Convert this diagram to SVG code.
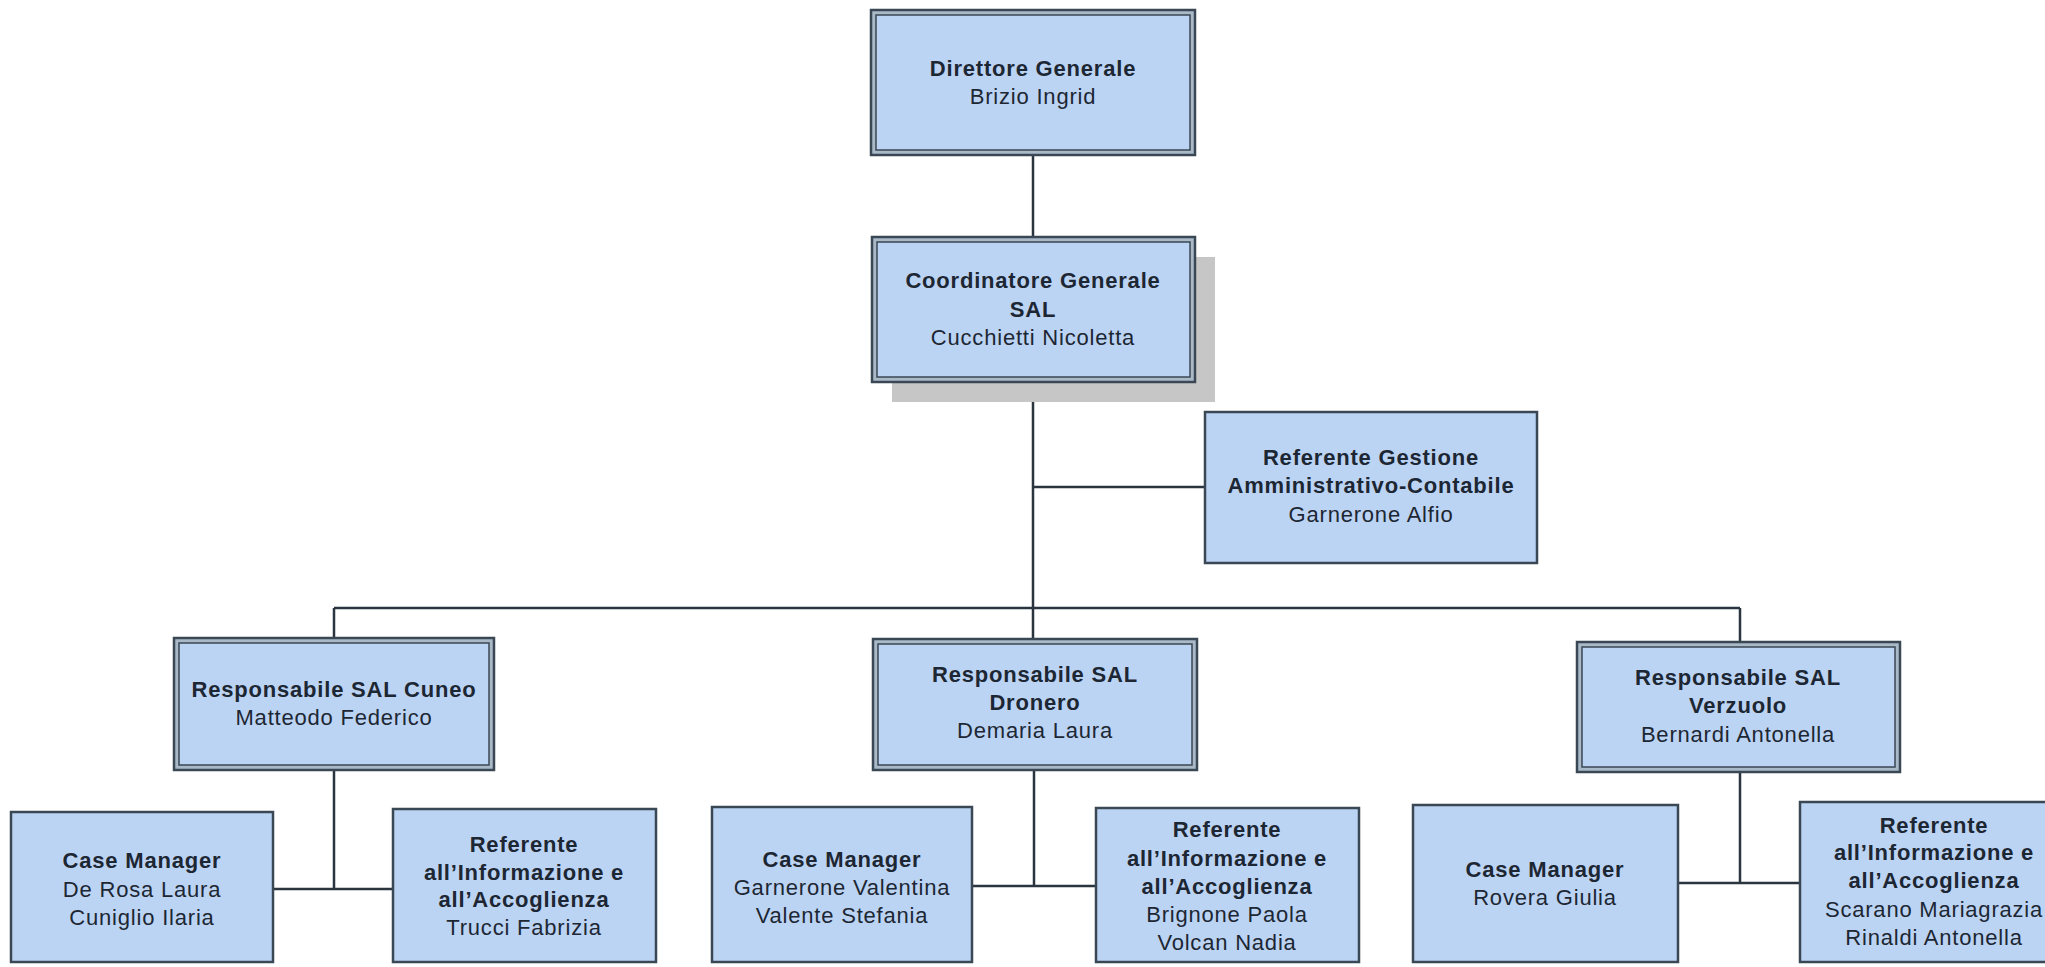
<svg xmlns="http://www.w3.org/2000/svg" width="2045" height="967" viewBox="0 0 2045 967">
<style>
.bg{fill:#ffffff}
.out{fill:#aab9c8;stroke:#3a4754;stroke-width:2.5}
.in{fill:#bcd4f3;stroke:#3a4754;stroke-width:1.5}
.single{fill:#bcd4f3;stroke:#3a4754;stroke-width:2.5}
.shadow{fill:#c6c6c6}
.conn{stroke:#2b3540;stroke-width:2.5;fill:none}
text{font-family:"Liberation Sans",Arial,sans-serif;font-size:22px;letter-spacing:0.8px;fill:#1c2733;text-anchor:middle}
.b{font-weight:bold}
</style>
<rect class="bg" x="0" y="0" width="2045" height="967"/>
<g id="connectors">
<path class="conn" d="M1033 155 V237"/>
<path class="conn" d="M1033 382 V639"/>
<path class="conn" d="M1033 487 H1205"/>
<path class="conn" d="M334 608 H1740"/>
<path class="conn" d="M334 608 V638"/>
<path class="conn" d="M1740 608 V642"/>
<path class="conn" d="M334 770 V889 M273 889 H393"/>
<path class="conn" d="M1034 770 V886 M972 886 H1096"/>
<path class="conn" d="M1740 772 V883 M1678 883 H1800"/>
</g>
<g id="direttore">
<rect class="out" x="871" y="10" width="324" height="145"/>
<rect class="in" x="876" y="15" width="314" height="135"/>
<text x="1033" y="76" class="b">Direttore Generale</text>
<text x="1033" y="104">Brizio Ingrid</text>
</g>
<g id="coordinatore">
<rect class="shadow" x="892" y="257" width="323" height="145"/>
<rect class="out" x="872" y="237" width="323" height="145"/>
<rect class="in" x="877" y="242" width="313" height="135"/>
<text x="1033" y="288" class="b">Coordinatore Generale</text>
<text x="1033" y="317" class="b">SAL</text>
<text x="1033" y="345">Cucchietti Nicoletta</text>
</g>
<g id="referente-gestione">
<rect class="single" x="1205" y="412" width="332" height="151"/>
<text x="1371" y="465" class="b">Referente Gestione</text>
<text x="1371" y="493" class="b">Amministrativo-Contabile</text>
<text x="1371" y="522">Garnerone Alfio</text>
</g>
<g id="resp-cuneo">
<rect class="out" x="174" y="638" width="320" height="132"/>
<rect class="in" x="179" y="643" width="310" height="122"/>
<text x="334" y="697" class="b">Responsabile SAL Cuneo</text>
<text x="334" y="725">Matteodo Federico</text>
</g>
<g id="resp-dronero">
<rect class="out" x="873" y="639" width="324" height="131"/>
<rect class="in" x="878" y="644" width="314" height="121"/>
<text x="1035" y="682" class="b">Responsabile SAL</text>
<text x="1035" y="710" class="b">Dronero</text>
<text x="1035" y="738">Demaria Laura</text>
</g>
<g id="resp-verzuolo">
<rect class="out" x="1577" y="642" width="323" height="130"/>
<rect class="in" x="1582" y="647" width="313" height="120"/>
<text x="1738" y="685" class="b">Responsabile SAL</text>
<text x="1738" y="713" class="b">Verzuolo</text>
<text x="1738" y="742">Bernardi Antonella</text>
</g>
<g id="cm-cuneo">
<rect class="single" x="11" y="812" width="262" height="150"/>
<text x="142" y="868" class="b">Case Manager</text>
<text x="142" y="897">De Rosa Laura</text>
<text x="142" y="925">Cuniglio Ilaria</text>
</g>
<g id="ref-cuneo">
<rect class="single" x="393" y="809" width="263" height="153"/>
<text x="524" y="852" class="b">Referente</text>
<text x="524" y="880" class="b">all’Informazione e</text>
<text x="524" y="907" class="b">all’Accoglienza</text>
<text x="524" y="935">Trucci Fabrizia</text>
</g>
<g id="cm-dronero">
<rect class="single" x="712" y="807" width="260" height="155"/>
<text x="842" y="867" class="b">Case Manager</text>
<text x="842" y="895">Garnerone Valentina</text>
<text x="842" y="923">Valente Stefania</text>
</g>
<g id="ref-dronero">
<rect class="single" x="1096" y="808" width="263" height="154"/>
<text x="1227" y="837" class="b">Referente</text>
<text x="1227" y="866" class="b">all’Informazione e</text>
<text x="1227" y="894" class="b">all’Accoglienza</text>
<text x="1227" y="922">Brignone Paola</text>
<text x="1227" y="950">Volcan Nadia</text>
</g>
<g id="cm-verzuolo">
<rect class="single" x="1413" y="805" width="265" height="157"/>
<text x="1545" y="877" class="b">Case Manager</text>
<text x="1545" y="905">Rovera Giulia</text>
</g>
<g id="ref-verzuolo">
<rect class="single" x="1800" y="802" width="268" height="160"/>
<text x="1934" y="833" class="b">Referente</text>
<text x="1934" y="860" class="b">all’Informazione e</text>
<text x="1934" y="888" class="b">all’Accoglienza</text>
<text x="1934" y="917">Scarano Mariagrazia</text>
<text x="1934" y="945">Rinaldi Antonella</text>
</g>
</svg>
